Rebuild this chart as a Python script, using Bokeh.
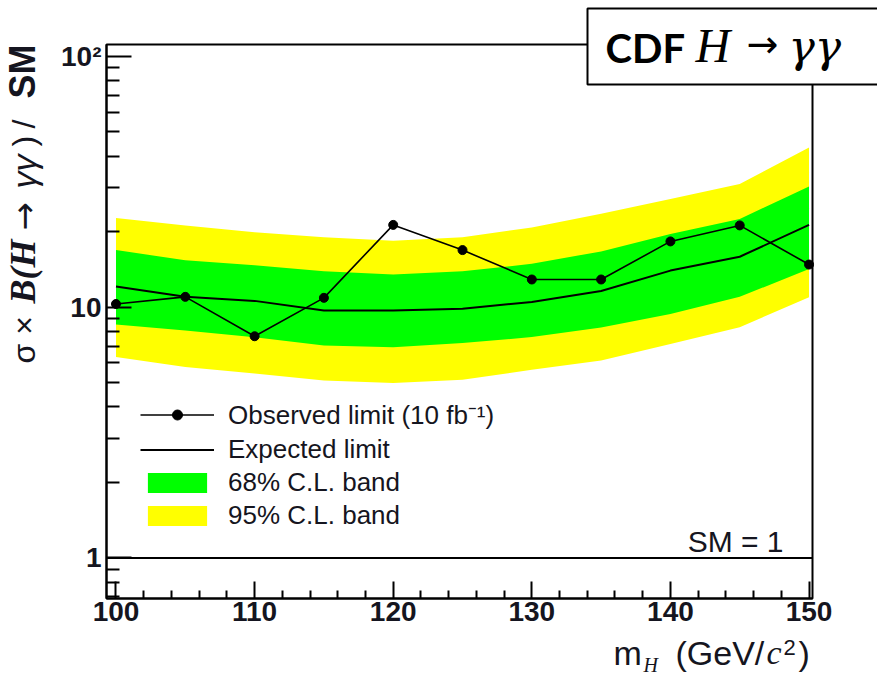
from math import pi, log10

from bokeh.plotting import figure
from bokeh.models import (Range1d, FixedTicker, LinearAxis, LogAxis, Label,
                          BoxAnnotation, Legend, LegendItem, Grid)
from bokeh.embed import file_html
from bokeh.resources import INLINE

# Higgs mass points (GeV/c^2)
mass = [100, 105, 110, 115, 120, 125, 130, 135, 140, 145, 150]

# 95% C.L. upper limits on sigma x B(H -> gamma gamma) relative to the SM
observed = [10.3, 11.0, 7.66, 10.9, 21.3, 16.9, 12.9, 12.9, 18.3, 21.2, 14.8]
expected = [12.1, 11.0, 10.6, 9.7, 9.7, 9.85, 10.5, 11.6, 14.0, 15.9, 21.3]
band68_lo = [8.53, 8.07, 7.59, 7.03, 6.92, 7.2, 7.6, 8.3, 9.4, 11.0, 14.2]
band68_hi = [16.9, 15.4, 14.7, 13.9, 13.5, 13.9, 14.9, 16.7, 19.6, 22.5, 30.3]
band95_lo = [6.33, 5.77, 5.44, 5.10, 4.99, 5.14, 5.63, 6.13, 7.14, 8.32, 10.96]
band95_hi = [22.7, 21.2, 19.9, 19.0, 18.4, 19.0, 20.8, 23.6, 27.0, 31.0, 43.4]
sm_value = 1

# axis ticks
x_ticks = [100, 110, 120, 130, 140, 150]
x_minor = [102, 104, 106, 108, 112, 114, 116, 118, 122, 124, 126, 128,
           132, 134, 136, 138, 142, 144, 146, 148]
y_ticks = [1, 10, 100]
y_minor = [0.7, 0.8, 0.9, 2, 3, 4, 5, 6, 7, 8, 9, 20, 30, 40, 50, 60, 70, 80, 90]
y_tick_labels = {1: "1", 10: "10", 100: "10²"}

# visible plot box (data units)
X_LO, X_HI = 99.315, 150.25
Y_LO, Y_HI = 0.689, 111.66

# page geometry: the plot box sits at these pixel margins inside the canvas
W, H = 877, 678
BOX_L, BOX_R, BOX_T, BOX_B = 106, 812, 44, 598

sx = (BOX_R - BOX_L) / (X_HI - X_LO)
sy = (log10(Y_HI) - log10(Y_LO)) / (BOX_B - BOX_T)
x_range = Range1d(X_LO - BOX_L / sx, X_HI + (W - BOX_R) / sx)
y_range = Range1d(10 ** (log10(Y_LO) - (H - BOX_B) * sy),
                  10 ** (log10(Y_HI) + BOX_T * sy))

sans = "Liberation Sans"
serif = "Liberation Serif"
ink = "#151520"

# the drawn baseline of a Label lands about this fraction of the font size
# below its anchor, so anchors are lifted by it
BASE_SHIFT = 0.38

p = figure(width=W, height=H, y_axis_type="log",
           x_range=x_range, y_range=y_range,
           x_axis_location=None, y_axis_location=None,
           output_backend="svg", toolbar_location=None,
           min_border=0, min_border_left=0, min_border_right=0,
           min_border_top=0, min_border_bottom=0)
p.outline_line_color = None
p.background_fill_color = "white"
p.border_fill_color = "white"
for r in p.center:
    if isinstance(r, Grid):
        r.visible = False

# bands, expected and observed limits
yel = p.varea(x=mass, y1=band95_lo, y2=band95_hi, fill_color="#ffff00")
grn = p.varea(x=mass, y1=band68_lo, y2=band68_hi, fill_color="#00ff00")
exp_line = p.line(mass, expected, line_color="black", line_width=2)
obs_line = p.line(mass, observed, line_color="black", line_width=1.6)
obs_pts = p.scatter(mass, observed, size=9, fill_color="black", line_color="black")

# SM = 1 reference line across the plot box
p.segment(x0=X_LO, x1=X_HI, y0=sm_value, y1=sm_value, line_color="black", line_width=2)


def text_at(text, x, y, font, style, size, color=ink, align="left"):
    """Place a horizontal text with its baseline at canvas pixel (x, y)."""
    p.add_layout(Label(x=x, y=H - y + BASE_SHIFT * size,
                       x_units="screen", y_units="screen", text=text,
                       text_align=align, text_baseline="alphabetic",
                       text_font=font, text_font_style=style,
                       text_font_size=f"{size}px", text_color=color))


text_at("SM = 1", 783, 552, sans, "normal", 30, align="right")

# axes pinned to the edges of the plot box
xa = LinearAxis(fixed_location=Y_LO, bounds=(X_LO, X_HI),
                ticker=FixedTicker(ticks=x_ticks, minor_ticks=x_minor))
ya = LogAxis(fixed_location=X_LO, bounds=(Y_LO, Y_HI),
             ticker=FixedTicker(ticks=y_ticks, minor_ticks=y_minor),
             major_label_overrides=y_tick_labels)
for ax in (xa, ya):
    ax.axis_line_width = 2
    ax.major_tick_line_width = 2
    ax.minor_tick_line_width = 2
    ax.major_tick_out = 0
    ax.minor_tick_out = 0
    ax.major_label_text_font = sans
    ax.major_label_text_font_size = "28px"
    ax.major_label_text_font_style = "bold"
    ax.major_label_text_color = ink
xa.major_tick_in = 17
xa.minor_tick_in = 8
xa.major_label_standoff = 3
ya.major_tick_in = 25
ya.minor_tick_in = 13
ya.major_label_standoff = 5
p.add_layout(xa, "below")
p.add_layout(ya, "left")

# frame of the plot box
p.add_layout(BoxAnnotation(left=X_LO, right=X_HI, bottom=Y_LO, top=Y_HI,
                           fill_alpha=0, line_color="black", line_width=2,
                           line_alpha=1))

# x axis title: m_H (GeV/c^2)
text_at("m", 613, 665, sans, "normal", 34)
text_at("H", 643, 672, serif, "italic", 20)
text_at("(GeV/", 675, 665, sans, "normal", 34)
text_at("c", 766, 665, serif, "italic", 34)
text_at("2", 783, 655, sans, "normal", 22)
text_at(")", 798, 665, sans, "normal", 34)

# y axis title: sigma x B(H -> gamma gamma) / SM, reading upwards
ylab = [
    ("σ ×", 363, sans, "normal", 32),
    ("B(H", 303, serif, "bold italic", 36),
    ("→", 230, "DejaVu Sans", "normal", 34),
    ("γγ", 188, sans, "italic", 34),
    (")", 146, sans, "normal", 32),
    ("/", 128, sans, "normal", 32),
    ("SM", 98, sans, "bold", 36),
]
for t, y, f, st, sz in ylab:
    p.add_layout(Label(x=36 - BASE_SHIFT * sz, y=H - y,
                       x_units="screen", y_units="screen", text=t,
                       angle=pi / 2, text_align="left", text_baseline="alphabetic",
                       text_font=f, text_font_style=st, text_font_size=f"{sz}px",
                       text_color=ink))

# legend
legend = Legend(items=[
    LegendItem(label="Observed limit (10 fb⁻¹)", renderers=[obs_line, obs_pts]),
    LegendItem(label="Expected limit", renderers=[exp_line]),
    LegendItem(label="68% C.L. band", renderers=[grn]),
    LegendItem(label="95% C.L. band", renderers=[yel]),
], location=(140, H - 531), glyph_width=74, glyph_height=25, label_standoff=14,
    spacing=2, padding=0, margin=0, border_line_color=None,
    background_fill_alpha=0, label_text_font=sans,
    label_text_font_size="26px", label_text_color=ink)
p.add_layout(legend)

# title box
p.add_layout(BoxAnnotation(left=587, right=W + 10, top=H - 8, bottom=H - 84,
                           left_units="screen", right_units="screen",
                           top_units="screen", bottom_units="screen",
                           fill_color="white", fill_alpha=1,
                           line_color="black", line_width=2, line_alpha=1))
text_at("CDF", 605, 63, "Lato", "bold", 40, color="black")
text_at("H", 695, 63, serif, "italic", 48, color="black")
text_at("→", 746, 58, "DejaVu Sans", "normal", 38, color="black")
text_at("γγ", 788, 63, "DejaVu Serif", "italic", 44, color="black")

open("out.html", "w").write(file_html(p, INLINE))
